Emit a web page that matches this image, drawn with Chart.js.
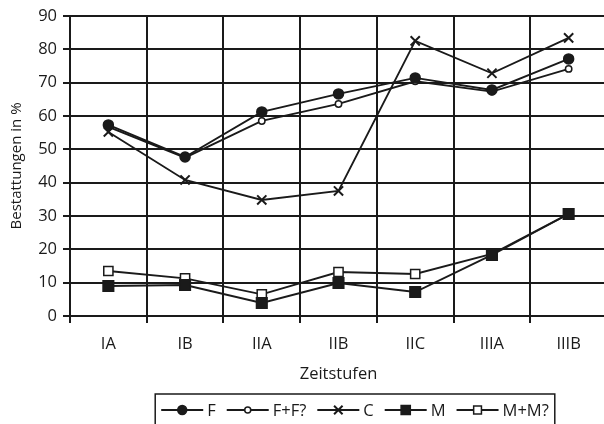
<!DOCTYPE html>
<html>
<head>
<meta charset="utf-8">
<script src="https://cdn.jsdelivr.net/npm/chart.js@4"></script>
<style>
  html, body { margin: 0; padding: 0; background: #fff; overflow: hidden; }
  #wrap { width: 616px; height: 424px; }
</style>
</head>
<body>
<div id="wrap"><canvas id="chart" width="616" height="424"></canvas></div>
<script>
const zeitstufen = ["IA", "IB", "IIA", "IIB", "IIC", "IIIA", "IIIB"];
const yTicks = [0, 10, 20, 30, 40, 50, 60, 70, 80, 90];

const seriesF    = [57.3, 47.7, 61.2, 66.6, 71.4, 67.8, 77.1];
const seriesFF   = [56.7, 47.5, 58.5, 63.6, 70.4, 67.3, 74.1];
const seriesC    = [55.2, 40.8, 34.8, 37.5, 82.5, 72.8, 83.4];
const seriesM    = [9.0, 9.3, 3.9, 9.9, 7.2, 18.3, 30.6];
const seriesMM   = [13.5, 11.3, 6.5, 13.2, 12.6, 18.6, 30.6];

const INK = "#1a1a1a";
const FONT = "'Open Sans', 'DejaVu Sans', sans-serif";

function ds(label, data, style, radius, fill, legendRadius) {
  return {
    label, data, legendRadius,
    borderColor: INK, borderWidth: 1.9,
    pointStyle: style, pointRadius: radius, pointHoverRadius: radius,
    pointBackgroundColor: fill, pointBorderColor: INK,
    pointBorderWidth: style === "crossRot" ? 2 : 1.5,
    tension: 0, fill: false
  };
}

// legend in a box under the axis title: line with marker in the middle
const boxLegend = {
  id: "boxLegend",
  afterDraw(chart) {
    const { ctx } = chart;
    ctx.save();
    ctx.font = "16.5px " + FONT;
    const items = chart.data.datasets.map(d => ({ d, w: 46 + ctx.measureText(d.label).width }));
    const gap = 11;
    const total = items.reduce((s, it) => s + it.w, 0) + gap * (items.length - 1);
    const cx = 355, y = 410;
    let x = cx - total / 2;
    ctx.strokeStyle = INK; ctx.lineWidth = 1.5;
    ctx.strokeRect(x - 6, 394, total + 12, 36);
    for (const it of items) {
      const d = it.d;
      ctx.strokeStyle = INK; ctx.lineWidth = 1.8;
      ctx.beginPath(); ctx.moveTo(x, y); ctx.lineTo(x + 42, y); ctx.stroke();
      ctx.fillStyle = d.pointBackgroundColor;
      ctx.lineWidth = d.pointBorderWidth;
      Chart.helpers.drawPoint(ctx, { pointStyle: d.pointStyle, radius: d.legendRadius, borderWidth: d.pointBorderWidth }, x + 21, y);
      ctx.fillStyle = INK; ctx.textBaseline = "middle"; ctx.textAlign = "left";
      ctx.fillText(d.label, x + 46, y + 1);
      x += it.w + gap;
    }
    ctx.restore();
  }
};

new Chart(document.getElementById("chart"), {
  type: "line",
  data: {
    labels: zeitstufen,
    datasets: [
      ds("F", seriesF, "circle", 5, INK, 4.5),
      ds("F+F?", seriesFF, "circle", 3.2, "#fff", 3),
      ds("C", seriesC, "crossRot", 6.5, INK, 6),
      ds("M", seriesM, "rect", 7.5, INK, 6.5),
      ds("M+M?", seriesMM, "rect", 6.5, "#fff", 5.5)
    ]
  },
  options: {
    responsive: false,
    animation: false,
    layout: { padding: { top: 0, right: 3.5, bottom: 36, left: 0 } },
    plugins: { legend: { display: false }, tooltip: { enabled: false } },
    scales: {
      x: {
        offset: true,
        grid: { offset: true, color: INK, lineWidth: 2, tickLength: 7 },
        border: { color: INK, width: 2 },
        ticks: { color: INK, font: { family: FONT, size: 16.5 }, padding: 11, maxRotation: 0 },
        title: { display: true, text: "Zeitstufen", color: INK, font: { family: FONT, size: 16.5 }, padding: { top: 0, bottom: 4 } },
        afterFit: (s) => { s.height = 72; }
      },
      y: {
        min: 0, max: 90,
        afterBuildTicks: (s) => { s.ticks = yTicks.map(v => ({ value: v })); },
        grid: { color: INK, lineWidth: 2, tickLength: 7 },
        border: { color: INK, width: 2 },
        ticks: { color: INK, font: { family: FONT, size: 16.5 }, padding: 6 },
        title: { display: true, text: "Bestattungen in %", color: INK, font: { family: FONT, size: 15 }, padding: { top: 8, bottom: 0 } },
        afterFit: (s) => { s.width = 70; }
      }
    }
  },
  plugins: [boxLegend]
});
</script>
</body>
</html>
